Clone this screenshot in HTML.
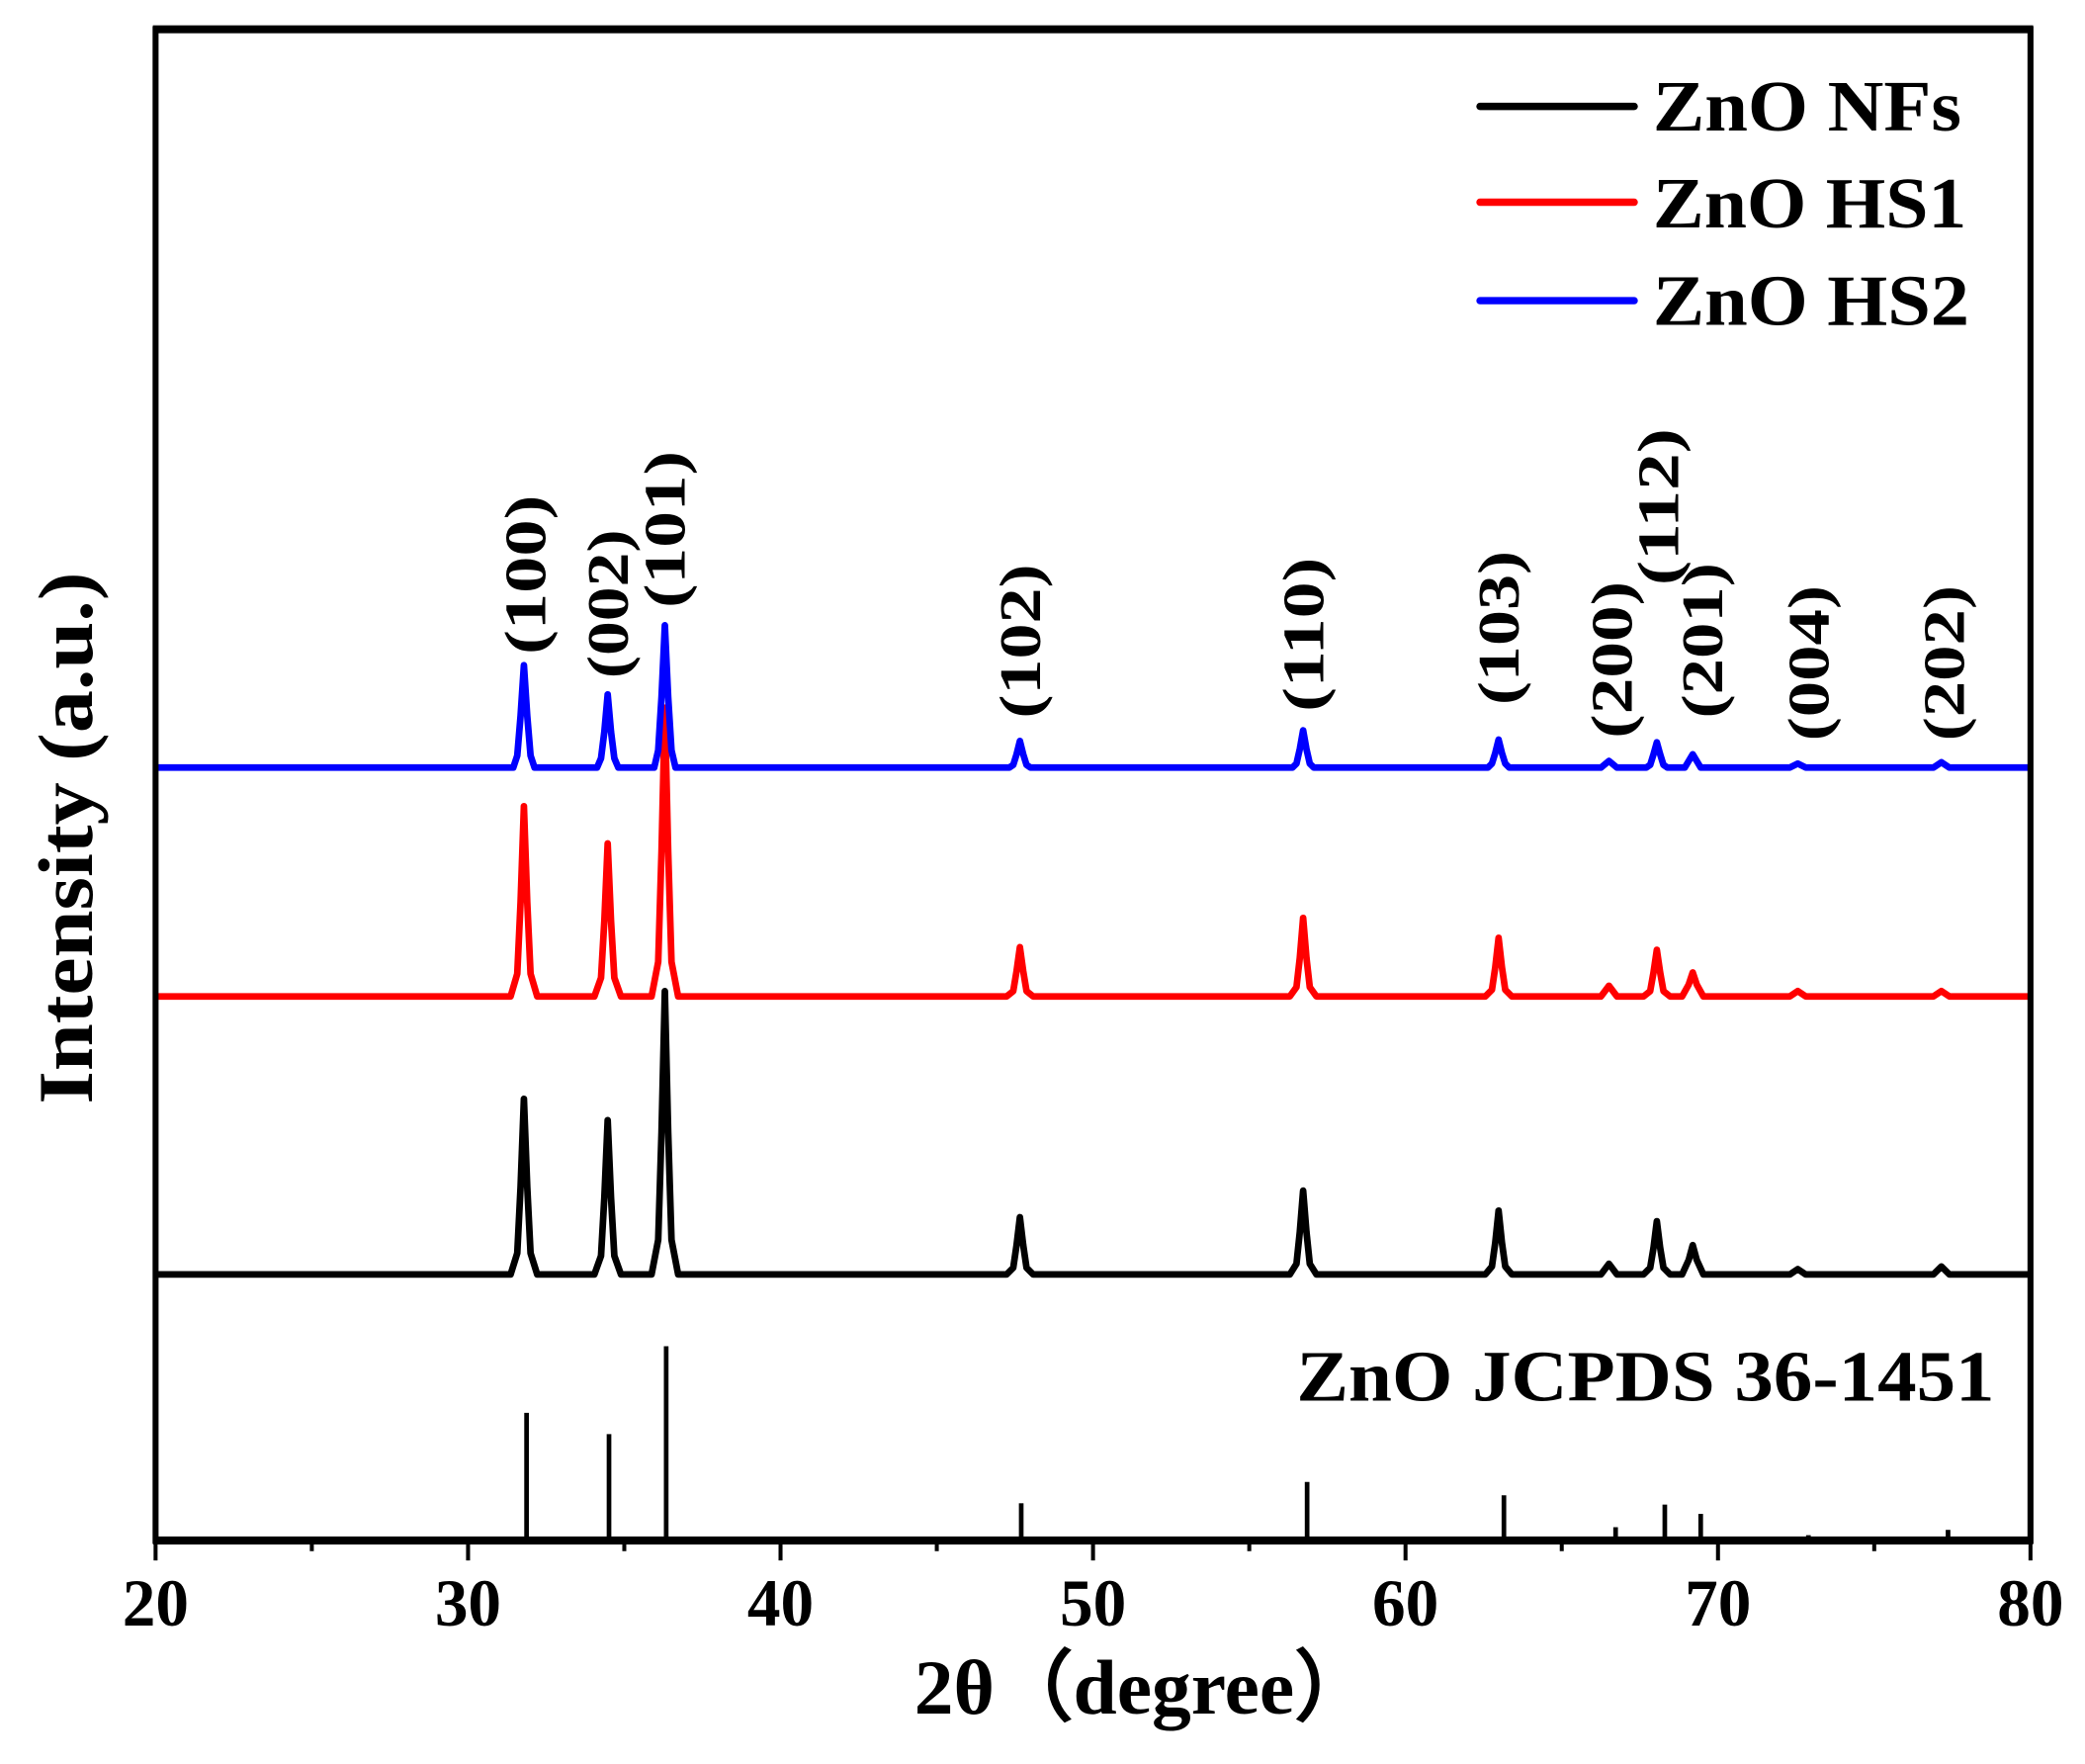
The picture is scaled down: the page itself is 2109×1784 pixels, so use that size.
<!DOCTYPE html>
<html><head><meta charset="utf-8"><style>html,body{margin:0;padding:0;background:#fff}svg{display:block}</style></head>
<body>
<svg width="2109" height="1784" viewBox="0 0 1568 1326" preserveAspectRatio="none" xmlns="http://www.w3.org/2000/svg" font-family="'Liberation Serif', serif" font-weight="bold">
<rect width="1568" height="1326" fill="#fff"/>
<g fill="none" stroke-width="5" stroke-linejoin="round">
<path stroke="#000" d="M117,958 L384,958 389,942 391.5,892 394,826 396.5,892 399,942 404,958 L447,958 452,944 454.5,900 457,842 459.5,900 462,944 467,958 L490,958 495,932 497.5,851 500,745 502.5,851 505,932 510,958 L757,958 762,953 764.5,936 767,915 769.5,936 772,953 777,958 L970,958 975,950 977.5,926 980,895 982.5,926 985,950 990,958 L1117,958 1122,952 1124.5,934 1127,910 1129.5,934 1132,952 1137,958 L1204,958 1210,950 1216,958 L1236,958 1241,953 1243.5,938 1246,918 1248.5,938 1251,953 1256,958 L1265,958 1270,947 1273,936 1276,947 1281,958 L1346,958 1352,954 1358,958 L1454,958 1460,952 1466,958 L1527,958"/>
<path stroke="#f00" d="M117,749 L384,749 389,732 391.5,678 394,606 396.5,678 399,732 404,749 L447,749 452,735 454.5,692 457,634 459.5,692 462,735 467,749 L490,749 495,723 497.5,640 500,532 502.5,640 505,723 510,749 L757,749 762,745 764.5,730 767,712 769.5,730 772,745 777,749 L970,749 975,742 977.5,720 980,690 982.5,720 985,742 990,749 L1117,749 1122,744 1124.5,727 1127,705 1129.5,727 1132,744 1137,749 L1204,749 1210,741 1216,749 L1236,749 1241,745 1243.5,731 1246,714 1248.5,731 1251,745 1256,749 L1265,749 1270,740 1273,731 1276,740 1281,749 L1346,749 1352,745 1358,749 L1454,749 1460,745 1466,749 L1527,749"/>
<path stroke="#00f" d="M117,577 L386,577 389,568 391.5,538 394,500 396.5,538 399,568 402,577 L449,577 452,570 454.5,550 457,522 459.5,550 462,570 465,577 L492,577 495,564 497.5,524 500,470 502.5,524 505,564 508,577 L759,577 762,575 764.5,567 767,557 769.5,567 772,575 775,577 L972,577 975,574 977.5,563 980,549 982.5,563 985,574 988,577 L1119,577 1122,574 1124.5,566 1127,556 1129.5,566 1132,574 1135,577 L1204,577 1210,572 1216,577 L1238,577 1241,575 1243.5,567 1246,558 1248.5,567 1251,575 1254,577 L1267,577 1270,572 1273,567 1276,572 1279,577 L1346,577 1352,574 1358,577 L1454,577 1460,573 1466,577 L1527,577"/>
</g>
<g stroke="#000" stroke-width="3.5">
<line x1="396" y1="1062" x2="396" y2="1156"/><line x1="458" y1="1078" x2="458" y2="1156"/><line x1="501" y1="1012" x2="501" y2="1156"/>
<line x1="768" y1="1130" x2="768" y2="1156"/><line x1="983" y1="1114" x2="983" y2="1156"/><line x1="1131" y1="1124" x2="1131" y2="1156"/>
<line x1="1215" y1="1148" x2="1215" y2="1156"/><line x1="1252" y1="1131" x2="1252" y2="1156"/><line x1="1279" y1="1138" x2="1279" y2="1156"/>
<line x1="1360" y1="1154" x2="1360" y2="1156"/><line x1="1465" y1="1150" x2="1465" y2="1156"/>
</g>
<rect x="117" y="22" width="1410" height="1136" fill="none" stroke="#000" stroke-width="4.5"/>
<line x1="115" y1="22" x2="1529" y2="22" stroke="#000" stroke-width="6"/>
<line x1="115" y1="1158" x2="1529" y2="1158" stroke="#000" stroke-width="6"/>
<g stroke="#000" stroke-width="3">
<line x1="117" y1="1158" x2="117" y2="1173"/><line x1="234.5" y1="1158" x2="234.5" y2="1166"/>
<line x1="352" y1="1158" x2="352" y2="1173"/><line x1="469.5" y1="1158" x2="469.5" y2="1166"/>
<line x1="587" y1="1158" x2="587" y2="1173"/><line x1="704.5" y1="1158" x2="704.5" y2="1166"/>
<line x1="822" y1="1158" x2="822" y2="1173"/><line x1="939.5" y1="1158" x2="939.5" y2="1166"/>
<line x1="1057" y1="1158" x2="1057" y2="1173"/><line x1="1174.5" y1="1158" x2="1174.5" y2="1166"/>
<line x1="1292" y1="1158" x2="1292" y2="1173"/><line x1="1409.5" y1="1158" x2="1409.5" y2="1166"/>
<line x1="1527" y1="1158" x2="1527" y2="1173"/>
</g>
<g font-size="50" text-anchor="middle">
<text x="117" y="1222">20</text><text x="352" y="1222">30</text><text x="587" y="1222">40</text>
<text x="822" y="1222">50</text><text x="1057" y="1222">60</text><text x="1292" y="1222">70</text><text x="1527" y="1222">80</text>
</g>
<text x="860" y="1288" font-size="58" text-anchor="middle" textLength="345" lengthAdjust="spacingAndGlyphs">2θ（degree）</text>
<text transform="translate(69,630) rotate(-90)" font-size="58" text-anchor="middle" textLength="400" lengthAdjust="spacingAndGlyphs">Intensity (a.u.)</text>
<g stroke-width="5.5" stroke-linecap="round">
<line x1="1113" y1="80" x2="1229" y2="80" stroke="#000"/>
<line x1="1113" y1="152" x2="1229" y2="152" stroke="#f00"/>
<line x1="1113" y1="226" x2="1229" y2="226" stroke="#00f"/>
</g>
<g font-size="54">
<text x="1243" y="98" textLength="232" lengthAdjust="spacingAndGlyphs">ZnO NFs</text>
<text x="1243" y="171" textLength="236" lengthAdjust="spacingAndGlyphs">ZnO HS1</text>
<text x="1243" y="244" textLength="238" lengthAdjust="spacingAndGlyphs">ZnO HS2</text>
<text x="975" y="1053" textLength="525" lengthAdjust="spacingAndGlyphs">ZnO JCPDS 36-1451</text>
</g>
<g font-size="44">
<text transform="translate(410,492) rotate(-90)" textLength="120" lengthAdjust="spacingAndGlyphs">(100)</text>
<text transform="translate(472,510) rotate(-90)" textLength="112" lengthAdjust="spacingAndGlyphs">(002)</text>
<text transform="translate(515,457) rotate(-90)" textLength="118" lengthAdjust="spacingAndGlyphs">(101)</text>
<text transform="translate(782,540) rotate(-90)" textLength="116" lengthAdjust="spacingAndGlyphs">(102)</text>
<text transform="translate(995,535) rotate(-90)" textLength="116" lengthAdjust="spacingAndGlyphs">(110)</text>
<text transform="translate(1142,530) rotate(-90)" textLength="116" lengthAdjust="spacingAndGlyphs">(103)</text>
<text transform="translate(1227,555) rotate(-90)" textLength="118" lengthAdjust="spacingAndGlyphs">(200)</text>
<text transform="translate(1262,440) rotate(-90)" textLength="118" lengthAdjust="spacingAndGlyphs">(112)</text>
<text transform="translate(1295,540) rotate(-90)" textLength="117" lengthAdjust="spacingAndGlyphs">(201)</text>
<text transform="translate(1375,557) rotate(-90)" textLength="117" lengthAdjust="spacingAndGlyphs">(004)</text>
<text transform="translate(1477,557) rotate(-90)" textLength="117" lengthAdjust="spacingAndGlyphs">(202)</text>
</g>
</svg>
</body></html>
